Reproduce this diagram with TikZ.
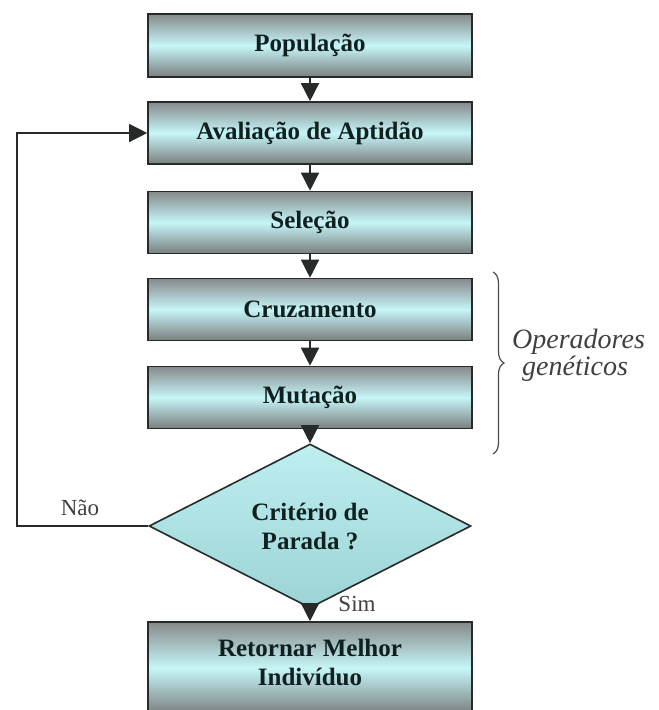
\documentclass[tikz,border=0pt]{standalone}
\usepackage{fontspec}
\setmainfont{Liberation Serif}
\usetikzlibrary{shapes.geometric,arrows.meta,decorations.pathreplacing}
\definecolor{boxgray}{HTML}{868A8A}
\definecolor{boxgrayb}{HTML}{7A7E7E}
\definecolor{boxcyan}{HTML}{C6F6F8}
\definecolor{txtdark}{HTML}{102020}
\definecolor{lined}{HTML}{262A2A}
\definecolor{diamA}{HTML}{BEEEF0}
\definecolor{diamB}{HTML}{9CD4D5}
\tikzset{
  stepbox/.style={rectangle, draw=lined, line width=1.6pt, minimum width=324pt,
    minimum height=62pt, inner sep=0pt, top color=boxgray, bottom color=boxgrayb,
    middle color=boxcyan, text=txtdark, font=\bfseries\fontsize{25}{29}\selectfont, align=center},
  decide/.style={diamond, draw=lined, line width=1.6pt, minimum width=322pt,
    minimum height=140pt, inner sep=0pt, top color=diamA, bottom color=diamB,
    text=txtdark, font=\bfseries\fontsize{25}{29}\selectfont, align=center},
  flow/.style={draw=lined, line width=1.5pt, -{Triangle[width=18pt,length=18pt]}},
  loopline/.style={draw=lined, line width=1.3pt, -{Triangle[width=18pt,length=18pt]}},
  plainlbl/.style={text=black!75, font=\fontsize{23}{26}\selectfont},
  opslbl/.style={text=black!75, font=\itshape\fontsize{28}{32}\selectfont, anchor=west, inner sep=0pt}
}
\begin{document}
\begin{tikzpicture}[x=1pt,y=-1pt]
\useasboundingbox (0,0) rectangle (659,710);
\begin{scope}
\clip (0,0) rectangle (659,710);
\node[stepbox, minimum height=63pt] (pop) at (310,45.5) {População};
\node[stepbox] (aval) at (310,133) {Avaliação de Aptidão};
\node[stepbox] (sel) at (310,222.5) {Seleção};
\node[stepbox] (cruz) at (310,309.5) {Cruzamento};
\node[stepbox] (mut) at (310,397.5) {Mutação};
\node[decide] (crit) at (310,526) {Critério de\\Parada ?};
\node[stepbox, minimum height=92pt, text height=0pt] (ret) at (310,668) {};
\node[text=txtdark, font=\bfseries\fontsize{25}{29}\selectfont, align=center] (rettxt) at (310,662) {Retornar Melhor\\Indivíduo};
\end{scope}
\draw[flow] (pop.south) -- (aval.north);
\draw[flow] (aval.south) -- (sel.north);
\draw[flow] (sel.south) -- (cruz.north);
\draw[flow] (cruz.south) -- (mut.north);
\draw[flow] (mut.south) -- (crit.north);
\draw[flow] (crit.south) -- (ret.north);
\coordinate (lc) at (17,526);
\draw[loopline] (crit.west) -- (lc) |- (aval.west);
\node[plainlbl] (nao) at (80,508) {Não};
\node[plainlbl] (sim) at (357,604) {Sim};
\coordinate (bt) at (493,272);
\coordinate (bb) at (493,454);
\draw[draw=black!70, line width=1.2pt, decorate, decoration={brace, amplitude=11pt}] (bt) -- (bb);
\node[opslbl] (op1) at (512,342) {Operadores};
\node[opslbl] (op2) at (522,369) {genéticos};
\end{tikzpicture}
\end{document}
